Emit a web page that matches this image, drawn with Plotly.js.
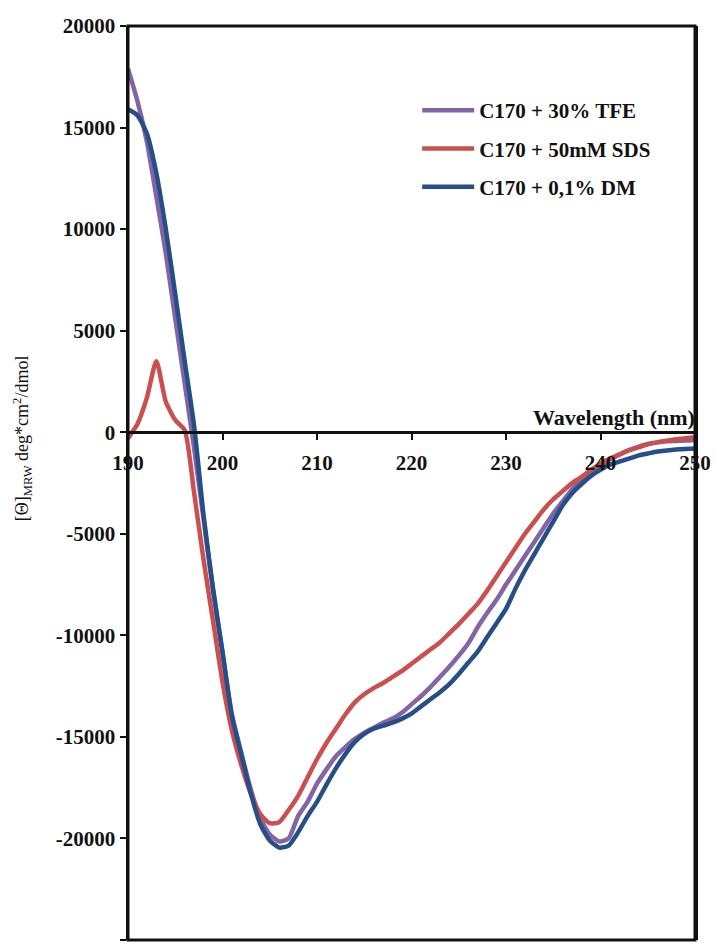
<!DOCTYPE html>
<html>
<head>
<meta charset="utf-8">
<script src="https://cdn.plot.ly/plotly-3.0.1.min.js"></script>
<style>
  html, body { margin: 0; padding: 0; background: #fff; }
  #chart { width: 715px; height: 950px; }
</style>
</head>
<body>
<div id="chart"></div>
<script>
// Wavelength grid (nm)
const wavelength = [190,191,192,193,194,195,196,197,198,199,
  200,201,202,203,204,205,206,207,208,209,
  210,211,212,213,214,215,216,217,218,219,
  220,221,222,223,224,225,226,227,228,229,
  230,231,232,233,234,235,236,237,238,239,
  240,241,242,243,244,245,246,247,248,249,250];

// Mean residue ellipticity, deg*cm2/dmol
const tfe = [17900,16300,14300,11600,8800,5600,2400,-800,-4300,-7800,
  -10900,-13900,-15800,-17600,-19000,-19800,-20150,-20000,-18900,-18200,
  -17300,-16600,-15950,-15500,-15100,-14800,-14550,-14300,-14100,-13800,
  -13400,-13000,-12550,-12050,-11550,-11000,-10400,-9600,-8900,-8250,
  -7500,-6800,-6100,-5400,-4700,-4000,-3400,-2800,-2300,-1950,
  -1650,-1350,-1100,-880,-720,-580,-500,-450,-430,-410,-380];

const sds = [-300,400,1700,3500,1500,600,100,-3000,-6300,-9300,
  -12300,-14700,-16400,-17800,-18800,-19250,-19200,-18600,-17900,-17000,
  -16100,-15300,-14600,-13900,-13300,-12900,-12600,-12350,-12050,-11750,
  -11400,-11050,-10700,-10350,-9900,-9450,-8950,-8450,-7800,-7100,
  -6400,-5700,-5000,-4400,-3800,-3300,-2900,-2500,-2200,-1850,
  -1550,-1300,-1100,-900,-750,-600,-500,-420,-350,-300,-250];

const dm = [15900,15600,14700,12750,10000,6800,3500,300,-4100,-7700,
  -10800,-14000,-15900,-17800,-19300,-20100,-20450,-20350,-19700,-18900,
  -18200,-17350,-16550,-15850,-15250,-14850,-14600,-14450,-14300,-14100,
  -13850,-13500,-13150,-12800,-12400,-11900,-11350,-10800,-10100,-9400,
  -8700,-7700,-6800,-6000,-5200,-4400,-3600,-3000,-2550,-2150,
  -1850,-1600,-1450,-1300,-1150,-1050,-950,-900,-850,-820,-800];

const seriesNames = ['C170 + 30% TFE', 'C170 + 50mM SDS', 'C170 + 0,1% DM'];
const seriesColors = ['#8364a4', '#c9504e', '#264f88'];
const seriesValues = [tfe, sds, dm];

const xTicks = [190, 200, 210, 220, 230, 240, 250];
const yTicks = [20000, 15000, 10000, 5000, 0, -5000, -10000, -15000, -20000, -25000];
const yTickText = ['20000', '15000', '10000', '5000', '0', '-5000', '-10000', '-15000', '-20000', '-25000'];

const serif = 'Liberation Serif, Times New Roman, serif';

const traces = seriesValues.map((vals, i) => ({
  x: wavelength,
  y: vals,
  type: 'scatter',
  mode: 'lines',
  name: seriesNames[i],
  legendgroup: 'g' + i,
  line: { color: seriesColors[i], width: 4.5, shape: 'spline', smoothing: 0.6 }
}));

const yMin = -25000, yMax = 20000;

const layout = {
  width: 715,
  height: 950,
  margin: { l: 128, r: 20, t: 26, b: 10 },
  paper_bgcolor: '#ffffff',
  plot_bgcolor: '#ffffff',
  showlegend: true,
  legend: {
    x: 0.51, y: 0.93, xanchor: 'left', yanchor: 'top',
    bgcolor: 'rgba(0,0,0,0)',
    traceorder: 'grouped',
    tracegroupgap: 8,
    itemwidth: 52,
    font: { family: serif, size: 21, color: '#111', weight: 'bold' }
  },
  xaxis: {
    range: [190, 250],
    anchor: 'free',
    position: (0 - yMin) / (yMax - yMin),
    tickvals: xTicks,
    ticks: 'outside',
    ticklen: 6,
    tickwidth: 2,
    tickcolor: '#111',
    ticklabelstandoff: 5,
    showline: true,
    linecolor: '#111',
    linewidth: 2.5,
    showgrid: false,
    zeroline: false,
    tickfont: { family: serif, size: 21, color: '#111', weight: 'bold' }
  },
  yaxis: {
    range: [yMin, yMax],
    tickvals: yTicks,
    ticktext: yTickText,
    ticks: 'outside',
    ticklen: 6,
    tickwidth: 2,
    tickcolor: '#111',
    showline: true,
    mirror: true,
    linecolor: '#111',
    linewidth: 2.5,
    showgrid: false,
    zeroline: false,
    tickfont: { family: serif, size: 21, color: '#111', weight: 'bold' }
  },
  shapes: [{
    type: 'rect', xref: 'paper', yref: 'paper',
    x0: 0, x1: 1, y0: 0, y1: 1,
    line: { color: '#111', width: 3 }
  }],
  annotations: [
    {
      text: '<b>Wavelength (nm)</b>',
      xref: 'x', yref: 'y', x: 250, y: 0,
      xanchor: 'right', yanchor: 'bottom', yshift: 0, xshift: 2,
      showarrow: false,
      font: { family: serif, size: 22, color: '#111' }
    },
    {
      text: '[Θ]<sub>MRW</sub> deg*cm<sup>2</sup>/dmol',
      xref: 'paper', yref: 'paper', x: -0.187, y: 0.549,
      xanchor: 'center', yanchor: 'middle',
      textangle: -90,
      showarrow: false,
      font: { family: serif, size: 18, color: '#111' }
    }
  ]
};

Plotly.newPlot('chart', traces, layout, { displayModeBar: false, staticPlot: true });
</script>
</body>
</html>
